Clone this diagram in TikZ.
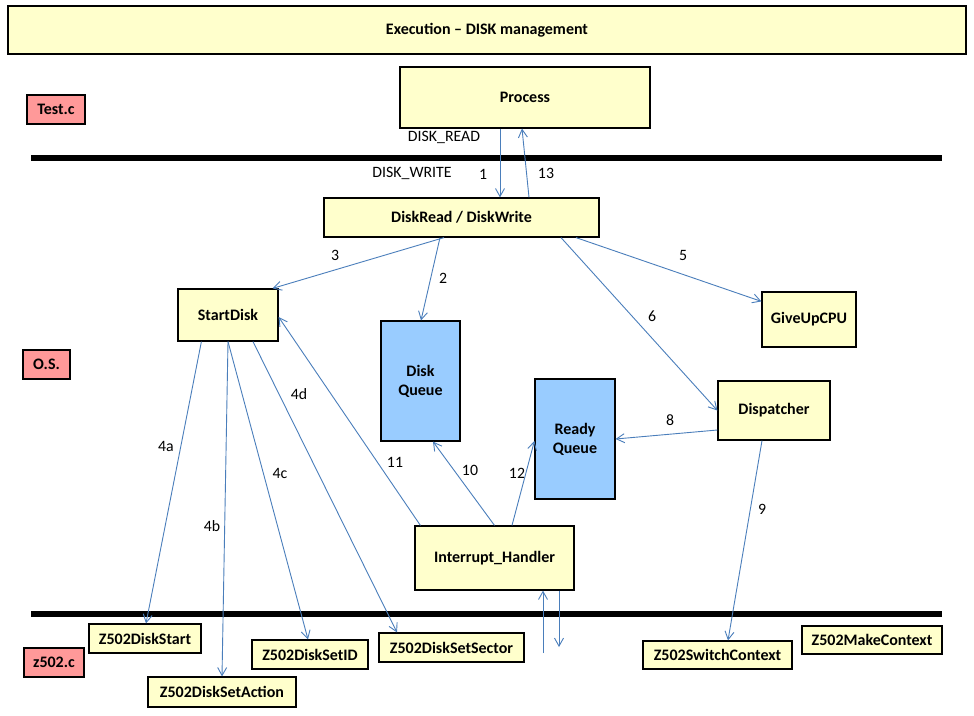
\documentclass[tikz,border=0pt]{standalone}
\usepackage{fontspec}
\setmainfont{Carlito}
\usetikzlibrary{arrows.meta}
\definecolor{boxyellow}{RGB}{255,255,204}
\definecolor{boxblue}{RGB}{153,204,255}
\definecolor{boxred}{RGB}{255,153,153}
\definecolor{arrowblue}{RGB}{74,126,187}
\tikzset{
  box/.style={draw=black, line width=1.2pt, fill=boxyellow, inner sep=0pt, font=\fontsize{16}{19}\selectfont\bfseries, align=center},
  queuebox/.style={box, fill=boxblue},
  filebox/.style={box, fill=boxred},
  arr/.style={draw=arrowblue, line width=0.9pt, -{Straight Barb[length=8pt,width=9pt]}},
  lbl/.style={font=\fontsize{15.8}{18}\selectfont, inner sep=0pt},
  sep/.style={line width=6pt, black}
}
\begin{document}
\begin{tikzpicture}[x=1pt,y=-1pt]
\useasboundingbox[fill=white] (0,0) rectangle (974,715);

% title
\node[box, minimum width=958, minimum height=48] (title) at (487,30) {Execution – DISK management};

% separators
\coordinate (s1a) at (31,158); \coordinate (s1b) at (942,158);
\coordinate (s2a) at (31,614); \coordinate (s2b) at (942,614);
\draw[sep] (s1a) -- (s1b);
\draw[sep] (s2a) -- (s2b);

% file labels
\node[filebox, minimum width=58, minimum height=29] (testc) at (56,109.5) {Test.c};
\node[filebox, minimum width=47, minimum height=29] (os) at (46.5,364.5) {O.S.};
\node[filebox, minimum width=60, minimum height=29] (z502c) at (54,662.5) {z502.c};

% main boxes
\node[box, minimum width=250, minimum height=61] (process) at (525,97.5) {Process};
\node[box, minimum width=275, minimum height=39] (diskrw) at (461.5,217.5) {DiskRead / DiskWrite};
\node[box, minimum width=100, minimum height=52] (startdisk) at (228,315) {StartDisk};
\node[queuebox, minimum width=79, minimum height=120] (diskq) at (420.5,381) {Disk\\Queue};
\node[queuebox, minimum width=80, minimum height=120] (readyq) at (575,439) {Ready\\Queue};
\node[box, minimum width=94, minimum height=55] (giveup) at (809,319.5) {GiveUpCPU};
\node[box, minimum width=112, minimum height=59] (dispatcher) at (774,410.5) {Dispatcher};
\node[box, minimum width=159, minimum height=64] (inth) at (494.5,558) {Interrupt\_Handler};

% z502 boxes
\node[box, minimum width=112, minimum height=29] (dstart) at (145,638.5) {Z502DiskStart};
\node[box, minimum width=148, minimum height=30] (daction) at (222,692) {Z502DiskSetAction};
\node[box, minimum width=116, minimum height=29] (did) at (310,654.5) {Z502DiskSetID};
\node[box, minimum width=145, minimum height=29] (dsector) at (451.5,647.5) {Z502DiskSetSector};
\node[box, minimum width=149, minimum height=28] (switchctx) at (717.5,655) {Z502SwitchContext};
\node[box, minimum width=140, minimum height=28] (makectx) at (872,640) {Z502MakeContext};

% labels
\node[lbl] (lread) at (444,137) {DISK\_READ};
\node[lbl] (lwrite) at (412,173) {DISK\_WRITE};
\node[lbl] (l1) at (483,174) {1};
\node[lbl] (l13) at (546,173) {13};
\node[lbl] (l3) at (335,255) {3};
\node[lbl] (l2) at (443,278) {2};
\node[lbl] (l5) at (683,255) {5};
\node[lbl] (l6) at (652,316) {6};
\node[lbl] (l4a) at (166,446) {4a};
\node[lbl] (l4b) at (212,526) {4b};
\node[lbl] (l4c) at (280,473) {4c};
\node[lbl] (l4d) at (299,394) {4d};
\node[lbl] (l11) at (395,462) {11};
\node[lbl] (l10) at (470,470) {10};
\node[lbl] (l12) at (517,473) {12};
\node[lbl] (l8) at (670,420) {8};
\node[lbl] (l9) at (762,509) {9};

% connectors
\draw[arr] ([xshift=-25pt]process.south) -- ([xshift=38.5pt]diskrw.north);
\draw[arr] ([xshift=67.5pt]diskrw.north) -- ([xshift=-3pt]process.south);
\draw[arr] ([xshift=-17.5pt]diskrw.south) -- ([xshift=-6pt]startdisk.north east);
\draw[arr] ([xshift=-21.5pt]diskrw.south) -- ([xshift=0.5pt]diskq.north);
\draw[arr] ([xshift=114.5pt]diskrw.south) -- ([yshift=-10pt]giveup.north west);
\draw[arr] ([xshift=99.5pt]diskrw.south) -- (dispatcher.west);
\draw[arr] ([yshift=-19.5pt]dispatcher.west) -- (readyq.east);
\draw[arr] ([xshift=-12pt]dispatcher.south) -- ([xshift=10.5pt]switchctx.north);
\draw[arr] (inth.north) -- ([xshift=12.5pt]diskq.south);
\draw[arr] ([xshift=17.5pt]inth.north) -- ([yshift=-2pt]readyq.west);
\draw[arr] ([xshift=6pt]inth.north west) -- ([yshift=-2pt]startdisk.east);
\draw[arr] ([xshift=24pt]startdisk.south west) -- ([xshift=1pt]dstart.north);
\draw[arr] (startdisk.south) -- (daction.north);
\draw[arr] (startdisk.south) -- ([xshift=-2pt]did.north);
\draw[arr] ([xshift=25pt]startdisk.south) -- ([xshift=-54.5pt]dsector.north);
\coordinate (upfoot) at (543,653);
\coordinate (downfoot) at (559,647);
\draw[arr] (upfoot) -- ([xshift=48.5pt]inth.south);
\draw[arr] ([xshift=64.5pt]inth.south) -- (downfoot);
\end{tikzpicture}
\end{document}
